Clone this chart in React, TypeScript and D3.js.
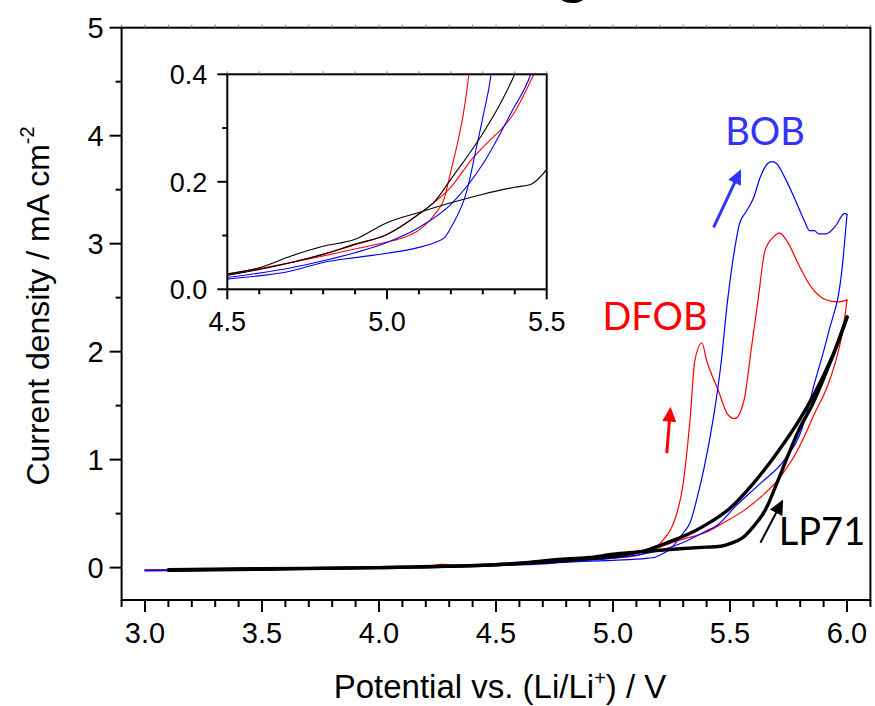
import React from "react";
import * as d3 from "d3";

// ---- data (potential V, current density mA cm^-2) ----
const lp71FwdV = [3.1, 3.5, 4.0, 4.5, 4.6, 4.7, 4.8, 4.9, 5.0, 5.1, 5.2, 5.3, 5.4, 5.45, 5.5, 5.55, 5.6, 5.65, 5.7, 5.75, 5.8, 5.85, 5.9, 5.95, 6.0];
const lp71FwdJ = [-0.02, -0.01, 0.0, 0.028, 0.04, 0.062, 0.08, 0.093, 0.124, 0.143, 0.161, 0.177, 0.19, 0.195, 0.223, 0.27, 0.38, 0.53, 0.78, 1.05, 1.3, 1.5, 1.75, 2.02, 2.32];
const lp71RevV = [3.1, 3.5, 4.0, 4.5, 4.7, 4.8, 4.9, 5.0, 5.1, 5.15, 5.2, 5.3, 5.35, 5.4, 5.5, 5.6, 5.7, 5.8, 5.9, 5.95, 6.0];
const lp71RevJ = [-0.025, -0.015, 0.0, 0.026, 0.05, 0.065, 0.084, 0.102, 0.14, 0.164, 0.205, 0.29, 0.34, 0.4, 0.55, 0.78, 1.06, 1.38, 1.78, 2.02, 2.32];

const dfobFwdV = [3.0, 3.5, 4.0, 4.2, 4.27, 4.34, 4.5, 4.7, 4.8, 4.9, 5.0, 5.05, 5.1, 5.15, 5.18, 5.2, 5.22, 5.24, 5.26, 5.3, 5.33, 5.35, 5.38, 5.4, 5.45, 5.49, 5.52, 5.56, 5.59, 5.62, 5.65, 5.69, 5.71, 5.75, 5.79, 5.85, 5.91, 5.96, 6.0];
const dfobFwdJ = [-0.02, -0.01, 0.0, 0.012, 0.03, 0.018, 0.029, 0.05, 0.062, 0.075, 0.088, 0.096, 0.11, 0.14, 0.17, 0.22, 0.27, 0.33, 0.42, 0.78, 1.39, 1.92, 2.08, 1.92, 1.64, 1.42, 1.38, 1.55, 2.01, 2.48, 2.94, 3.07, 3.1, 3.0, 2.82, 2.59, 2.48, 2.46, 2.48];
const dfobRevV = [3.0, 3.5, 4.0, 4.5, 4.7, 4.8, 4.9, 5.0, 5.1, 5.2, 5.27, 5.3, 5.4, 5.46, 5.56, 5.63, 5.7, 5.76, 5.81, 5.86, 5.92, 5.96, 5.98, 6.0];
const dfobRevJ = [-0.025, -0.015, 0.0, 0.026, 0.05, 0.065, 0.083, 0.102, 0.14, 0.19, 0.245, 0.264, 0.33, 0.4, 0.53, 0.65, 0.8, 0.98, 1.18, 1.42, 1.7, 1.98, 2.17, 2.48];

const bobFwdV = [3.0, 3.5, 4.0, 4.5, 4.7, 4.8, 4.9, 5.0, 5.1, 5.15, 5.18, 5.2, 5.25, 5.28, 5.3, 5.33, 5.36, 5.39, 5.43, 5.46, 5.49, 5.52, 5.54, 5.57, 5.6, 5.63, 5.66, 5.68, 5.7, 5.73, 5.78, 5.82, 5.84, 5.86, 5.88, 5.91, 5.95, 5.99, 6.0];
const bobFwdJ = [-0.025, -0.015, -0.005, 0.019, 0.034, 0.05, 0.059, 0.067, 0.078, 0.087, 0.096, 0.115, 0.183, 0.264, 0.32, 0.42, 0.65, 0.93, 1.4, 1.86, 2.48, 2.95, 3.18, 3.3, 3.42, 3.62, 3.74, 3.76, 3.74, 3.63, 3.4, 3.2, 3.12, 3.12, 3.09, 3.09, 3.16, 3.28, 3.27];
const bobRevV = [3.0, 3.5, 4.0, 4.5, 4.7, 4.8, 4.9, 5.0, 5.1, 5.2, 5.3, 5.39, 5.45, 5.52, 5.63, 5.73, 5.81, 5.86, 5.92, 5.98, 6.0];
const bobRevJ = [-0.03, -0.02, -0.005, 0.022, 0.04, 0.053, 0.068, 0.087, 0.115, 0.158, 0.233, 0.33, 0.4, 0.56, 0.78, 0.99, 1.3, 1.7, 2.17, 2.79, 3.27];

const xTicksMain = [3.0, 3.5, 4.0, 4.5, 5.0, 5.5, 6.0];
const yTicksMain = [0, 1, 2, 3, 4, 5];
const xTicksInset = [4.5, 5.0, 5.5];
const yTicksInset = [0.0, 0.2, 0.4];

const RED = "#ff0000";
const BLUE = "#0000ff";
const LABEL_BLUE = "#3333ff";

const zip = (a: number[], b: number[]) => a.map((v, i) => [v, b[i]] as [number, number]);

const series = [
  { key: "dfobF", pts: zip(dfobFwdV, dfobFwdJ), color: RED, w: 1.2, iw: 1.1 },
  { key: "dfobR", pts: zip(dfobRevV, dfobRevJ), color: RED, w: 1.2, iw: 1.1 },
  { key: "bobF", pts: zip(bobFwdV, bobFwdJ), color: BLUE, w: 1.2, iw: 1.1 },
  { key: "bobR", pts: zip(bobRevV, bobRevJ), color: BLUE, w: 1.2, iw: 1.1 },
  { key: "lpF", pts: zip(lp71FwdV, lp71FwdJ), color: "#000", w: 3.4, iw: 1.1 },
  { key: "lpR", pts: zip(lp71RevV, lp71RevJ), color: "#000", w: 3.4, iw: 1.1 },
];

const arrows = [
  { from: [5.23, 1.06], to: [5.246, 1.49], color: RED, w: 3 },
  { from: [5.43, 3.15], to: [5.547, 3.69], color: LABEL_BLUE, w: 3 },
  { from: [5.63, 0.23], to: [5.727, 0.63], color: "#000", w: 2 },
];

const AXIS_FONT = "'Liberation Sans', Arial, sans-serif";
const LABEL_FONT = "Lato, 'Open Sans', sans-serif";

export default function App() {
  const x = d3.scaleLinear().domain([2.9, 6.1]).range([121.6, 870.4]);
  const y = d3.scaleLinear().domain([-0.3, 5]).range([600, 27.7]);
  const xi = d3.scaleLinear().domain([4.5, 5.5]).range([227.3, 546.7]);
  const yi = d3.scaleLinear().domain([0, 0.4]).range([289.3, 74.3]);

  const lineMain = d3.line<[number, number]>().x(d => x(d[0])).y(d => y(d[1])).curve(d3.curveMonotoneX);
  const lineInset = d3.line<[number, number]>().x(d => xi(d[0])).y(d => yi(d[1])).curve(d3.curveMonotoneX);

  const xMinor = d3.range(29, 62).map(v => v / 10);
  const yMinor = d3.range(0, 11).map(v => v / 2);
  const xiMinor = d3.range(45, 56).map(v => v / 10);
  const yiMinor = d3.range(0, 5).map(v => v / 10);

  const [x0, x1] = x.range();
  const [yb, yt] = y.range();
  const [xi0, xi1] = xi.range();
  const [yib, yit] = yi.range();

  const arrowEl = (a: typeof arrows[number], i: number) => {
    const tx = x(a.from[0]), ty = y(a.from[1]);
    const hx = x(a.to[0]), hy = y(a.to[1]);
    const ang = Math.atan2(hy - ty, hx - tx);
    const hl = 15, hw = 7;
    const bx = hx - hl * Math.cos(ang), by = hy - hl * Math.sin(ang);
    const px = -Math.sin(ang), py = Math.cos(ang);
    const pts = `${hx},${hy} ${bx + px * hw},${by + py * hw} ${bx - px * hw},${by - py * hw}`;
    return (
      <g key={i}>
        <line x1={tx} y1={ty} x2={bx + 2 * Math.cos(ang)} y2={by + 2 * Math.sin(ang)} stroke={a.color} strokeWidth={a.w} />
        <polygon points={pts} fill={a.color} />
      </g>
    );
  };

  return (
    <svg width={875} height={706} viewBox="0 0 875 706" style={{ position: "absolute", left: 0, top: 0, background: "#fff" }}>
      <defs>
        <clipPath id="mainClip">
          <rect x={x0} y={yt} width={x1 - x0} height={yb - yt} />
        </clipPath>
        <clipPath id="insetClip">
          <rect x={xi0} y={yit} width={xi1 - xi0} height={yib - yit} />
        </clipPath>
      </defs>
      <rect x={0} y={0} width={875} height={706} fill="#fff" />
      {/* cut-off title glyph at the very top */}
      <text x={573} y={-9} textAnchor="middle" fontFamily={AXIS_FONT} fontWeight="bold" fontSize={60} fill="#000">g</text>

      {/* main curves */}
      <g clipPath="url(#mainClip)">
        {series.map(s => (
          <path key={s.key} d={lineMain(s.pts) || ""} fill="none" stroke={s.color} strokeWidth={s.w} strokeLinejoin="round" strokeLinecap="round" />
        ))}
      </g>

      {/* main frame */}
      <rect x={x0} y={yt} width={x1 - x0} height={yb - yt} fill="none" stroke="#000" strokeWidth={2} />
      {/* x ticks */}
      {xMinor.map(v => {
        const major = xTicksMain.some(t => Math.abs(t - v) < 1e-6);
        return <line key={"xm" + v} x1={x(v)} x2={x(v)} y1={yb} y2={yb + (major ? 12 : 7)} stroke="#000" strokeWidth={2} />;
      })}
      {xMinor.map(v => (
        <line key={"xt" + v} x1={x(v)} x2={x(v)} y1={yt} y2={yt - 3} stroke="#777" strokeWidth={1} />
      ))}
      {xTicksMain.map(v => (
        <text key={"xl" + v} x={x(v)} y={yb + 43} textAnchor="middle" fontFamily={AXIS_FONT} fontSize={29} fill="#000">{v.toFixed(1)}</text>
      ))}
      {/* y ticks */}
      {yMinor.map(v => {
        const major = yTicksMain.includes(v);
        return <line key={"ym" + v} x1={x0} x2={x0 - (major ? 12 : 6)} y1={y(v)} y2={y(v)} stroke="#000" strokeWidth={2} />;
      })}
      {yTicksMain.map(v => (
        <text key={"yl" + v} x={x0 - 18} y={y(v) + 10.5} textAnchor="end" fontFamily={AXIS_FONT} fontSize={29} fill="#000">{v}</text>
      ))}

      {/* axis titles */}
      <text x={(x0 + x1) / 2 + 4} y={698} textAnchor="middle" fontFamily={AXIS_FONT} fontSize={33} fill="#000">
        Potential vs. (Li/Li<tspan dy={-13} fontSize={20}>+</tspan><tspan dy={13}>) / V</tspan>
      </text>
      <text transform={`translate(49, 306) rotate(-90)`} textAnchor="middle" fontFamily={AXIS_FONT} fontSize={32} fill="#000">
        Current density / mA cm<tspan dy={-15} fontSize={20}>-2</tspan>
      </text>

      {/* arrows and labels */}
      {arrows.map(arrowEl)}
      <text x={765} y={145} textAnchor="middle" fontFamily={LABEL_FONT} fontSize={38} fill={LABEL_BLUE}>BOB</text>
      <text x={655} y={330} textAnchor="middle" fontFamily={LABEL_FONT} fontSize={38} fill={RED}>DFOB</text>
      <text x={822} y={545} textAnchor="middle" fontFamily={LABEL_FONT} fontSize={38} fill="#000">LP71</text>

      {/* inset */}
      <rect x={xi0} y={yit} width={xi1 - xi0} height={yib - yit} fill="#fff" />
      <g clipPath="url(#insetClip)">
        {series.map(s => (
          <path key={"i" + s.key} d={lineInset(s.pts) || ""} fill="none" stroke={s.color} strokeWidth={s.iw} strokeLinejoin="round" />
        ))}
      </g>
      <rect x={xi0} y={yit} width={xi1 - xi0} height={yib - yit} fill="none" stroke="#000" strokeWidth={2} />
      {xiMinor.map(v => {
        const major = xTicksInset.some(t => Math.abs(t - v) < 1e-6);
        return <line key={"xim" + v} x1={xi(v)} x2={xi(v)} y1={yib} y2={yib + (major ? 10 : 5)} stroke="#000" strokeWidth={2} />;
      })}
      {xiMinor.map(v => (
        <line key={"xit" + v} x1={xi(v)} x2={xi(v)} y1={yit} y2={yit - 3} stroke="#777" strokeWidth={1} />
      ))}
      {xTicksInset.map(v => (
        <text key={"xil" + v} x={xi(v)} y={yib + 42} textAnchor="middle" fontFamily={AXIS_FONT} fontSize={27} fill="#000">{v.toFixed(1)}</text>
      ))}
      {yiMinor.map(v => {
        const major = yTicksInset.some(t => Math.abs(t - v) < 1e-6);
        return <line key={"yim" + v} x1={xi0} x2={xi0 - (major ? 10 : 5)} y1={yi(v)} y2={yi(v)} stroke="#000" strokeWidth={2} />;
      })}
      {yTicksInset.map(v => (
        <text key={"yil" + v} x={xi0 - 20} y={yi(v) + 10} textAnchor="end" fontFamily={AXIS_FONT} fontSize={27} fill="#000">{v.toFixed(1)}</text>
      ))}
    </svg>
  );
}
